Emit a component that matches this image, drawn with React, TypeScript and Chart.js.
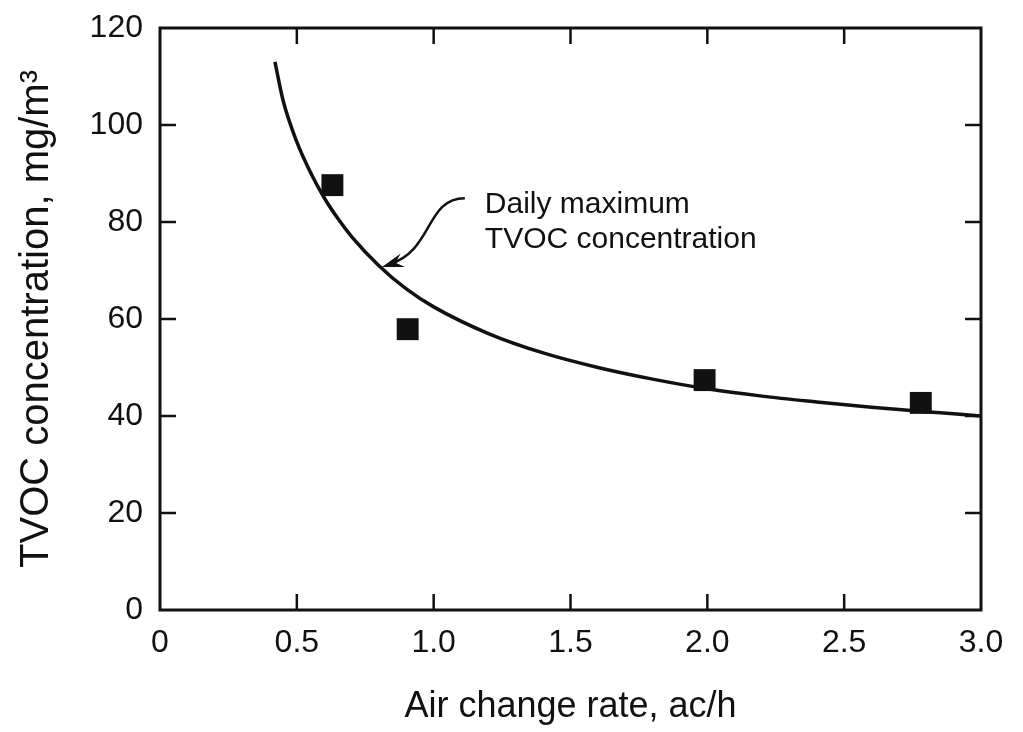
import React, { useEffect, useRef } from "react";
import { Chart, registerables } from "chart.js";

Chart.register(...registerables);

// Measured points (squares)
const pointX = [0.63, 0.905, 1.99, 2.78];
const pointY = [87.6, 57.9, 47.4, 42.7];

// Curve
const curveX = [0.42, 0.45, 0.5, 0.55, 0.6, 0.65, 0.7, 0.8, 0.9, 1.0, 1.2, 1.4, 1.6, 1.8, 2.0, 2.2, 2.4, 2.6, 2.8, 3.0];
const curveY = [113, 105, 96.5, 90.2, 85, 80.7, 77, 71, 66.2, 62.5, 57, 53, 50, 47.6, 45.6, 44.1, 42.9, 41.8, 40.9, 40];

const xTicks = [0, 0.5, 1.0, 1.5, 2.0, 2.5, 3.0];
const yTicks = [0, 20, 40, 60, 80, 100, 120];

const xTitle = "Air change rate, ac/h";
const yTitle = "TVOC concentration, mg/m\u00B3";
const annotationLines = ["Daily maximum", "TVOC concentration"];

const FONT = "'Liberation Sans', Arial, Helvetica, sans-serif";
const INK = "#111111";

const framePlugin = {
  id: "frameAndNotes",
  afterDraw(chart: any) {
    const { ctx, chartArea } = chart;
    const xs = chart.scales.x;
    const ys = chart.scales.y;
    const { left, right, top, bottom } = chartArea;
    ctx.save();
    ctx.strokeStyle = INK;
    ctx.lineCap = "butt";
    // frame
    ctx.lineWidth = 3;
    ctx.strokeRect(left, top, right - left, bottom - top);
    // inward ticks
    const tl = 16;
    ctx.lineWidth = 2.5;
    ctx.beginPath();
    xTicks.forEach((v) => {
      if (v <= xs.min || v >= xs.max) return;
      const px = xs.getPixelForValue(v);
      ctx.moveTo(px, bottom);
      ctx.lineTo(px, bottom - tl);
      ctx.moveTo(px, top);
      ctx.lineTo(px, top + tl);
    });
    yTicks.forEach((v) => {
      if (v <= ys.min || v >= ys.max) return;
      const py = ys.getPixelForValue(v);
      ctx.moveTo(left, py);
      ctx.lineTo(left + tl, py);
      ctx.moveTo(right, py);
      ctx.lineTo(right - tl, py);
    });
    ctx.stroke();

    // annotation text
    ctx.fillStyle = INK;
    ctx.font = "30px " + FONT;
    ctx.textAlign = "left";
    ctx.textBaseline = "alphabetic";
    const tx = xs.getPixelForValue(1.187);
    const ty = ys.getPixelForValue(81.9);
    annotationLines.forEach((s, i) => ctx.fillText(s, tx, ty + i * 35));

    // curved arrow
    const p0 = [xs.getPixelForValue(1.114), ys.getPixelForValue(84.9)];
    const c1 = [xs.getPixelForValue(0.97), ys.getPixelForValue(84.9)];
    const c2 = [xs.getPixelForValue(1.0), ys.getPixelForValue(74.2)];
    const p3 = [xs.getPixelForValue(0.811), ys.getPixelForValue(70.7)];
    ctx.lineWidth = 2.5;
    ctx.beginPath();
    ctx.moveTo(p0[0], p0[1]);
    ctx.bezierCurveTo(c1[0], c1[1], c2[0], c2[1], p3[0] + 8, p3[1] - 3);
    ctx.stroke();
    const ang = Math.atan2(p3[1] - c2[1], p3[0] - c2[0]);
    const hl = 22;
    const hw = 7;
    const bx = p3[0] - hl * Math.cos(ang);
    const by = p3[1] - hl * Math.sin(ang);
    ctx.beginPath();
    ctx.moveTo(p3[0], p3[1]);
    ctx.lineTo(bx + hw * Math.sin(ang), by - hw * Math.cos(ang));
    ctx.lineTo(bx + 0.35 * hl * Math.cos(ang), by + 0.35 * hl * Math.sin(ang));
    ctx.lineTo(bx - hw * Math.sin(ang), by + hw * Math.cos(ang));
    ctx.closePath();
    ctx.fill();
    ctx.restore();
  },
};

export default function App() {
  const ref = useRef<HTMLCanvasElement | null>(null);
  useEffect(() => {
    if (!ref.current) return;
    const chart = new Chart(ref.current, {
      type: "scatter",
      data: {
        datasets: [
          {
            label: "curve",
            data: curveX.map((x, i) => ({ x, y: curveY[i] })),
            showLine: true,
            borderColor: INK,
            borderWidth: 3.5,
            pointRadius: 0,
            cubicInterpolationMode: "monotone",
            fill: false,
          },
          {
            label: "measured",
            data: pointX.map((x, i) => ({ x, y: pointY[i] })),
            pointStyle: "rect",
            pointRadius: 15.5,
            backgroundColor: INK,
            borderWidth: 0,
            showLine: false,
          },
        ],
      },
      options: {
        responsive: false,
        animation: false,
        devicePixelRatio: 1,
        layout: { padding: { left: 0, top: 28, right: 42, bottom: 0 } },
        plugins: { legend: { display: false }, tooltip: { enabled: false } },
        scales: {
          x: {
            type: "linear",
            min: 0,
            max: 3,
            afterFit: (s: any) => {
              s.height = 122;
              s.paddingLeft = 0;
              s.paddingRight = 0;
            },
            afterBuildTicks: (s: any) => {
              s.ticks = xTicks.map((v) => ({ value: v }));
            },
            grid: { display: false, drawTicks: false },
            border: { display: false },
            ticks: {
              padding: 14,
              color: INK,
              font: { family: FONT, size: 32 },
              callback: (v: any) => (Number(v) === 0 ? "0" : Number(v).toFixed(1)),
              maxRotation: 0,
            },
            title: {
              display: true,
              text: xTitle,
              color: INK,
              font: { family: FONT, size: 36 },
              padding: { top: 0, bottom: 3 },
            },
          },
          y: {
            type: "linear",
            min: 0,
            max: 120,
            afterFit: (s: any) => {
              s.width = 160;
              s.paddingTop = 0;
              s.paddingBottom = 0;
            },
            afterBuildTicks: (s: any) => {
              s.ticks = yTicks.map((v) => ({ value: v }));
            },
            grid: { display: false, drawTicks: false },
            border: { display: false },
            ticks: {
              padding: 17,
              color: INK,
              font: { family: FONT, size: 32 },
            },
            title: {
              display: true,
              text: yTitle,
              color: INK,
              font: { family: FONT, size: 40 },
              padding: { top: 13, bottom: 0 },
            },
          },
        },
      },
      plugins: [framePlugin],
    } as any);
    return () => chart.destroy();
  }, []);
  return (
    <div style={{ position: "absolute", left: 0, top: 0, width: 1023, height: 732, background: "#fff" }}>
      <canvas ref={ref} width={1023} height={732} style={{ display: "block" }} />
    </div>
  );
}
